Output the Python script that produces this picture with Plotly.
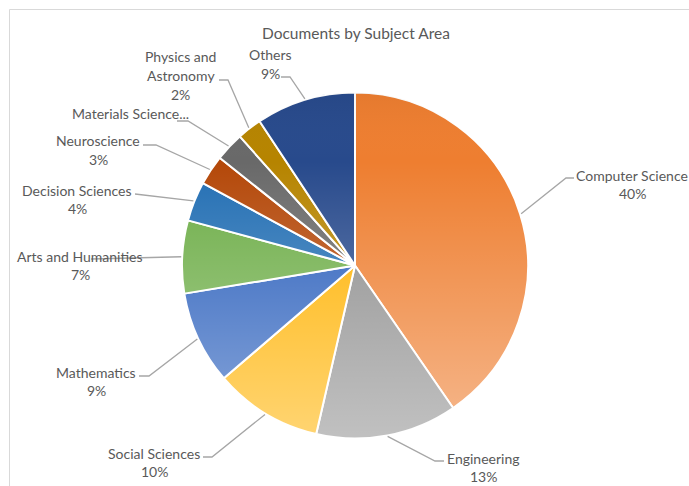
import base64
import math
import plotly.graph_objects as go

# ---- data -------------------------------------------------------------
categories = [
    "Computer Science", "Engineering", "Social Sciences", "Mathematics",
    "Arts and Humanities", "Decision Sciences", "Neuroscience",
    "Materials Science", "Physics and Astronomy", "Others",
]
shares = [40.4, 13.2, 10.1, 8.7, 6.8, 3.7, 2.8, 2.7, 2.3, 9.3]
# text shown for each category name
name_lines = [
    ["Computer Science"], ["Engineering"], ["Social Sciences"], ["Mathematics"],
    ["Arts and Humanities"], ["Decision Sciences"], ["Neuroscience"],
    ["Materials Science..."], ["Physics and", "Astronomy"], ["Others"],
]
show_pct = [True, True, True, True, True, True, True, False, True, True]

# ---- styling ----------------------------------------------------------
slice_colors = [
    "#EE7E30", "#8E8E8E", "#FFB200", "#2A5FBC", "#6DAD47",
    "#226EB3", "#B44809", "#696969", "#B68400", "#284A8C",
]
W, H = 689, 486
CX, CY, R = 355.0, 265.5, 173.0          # pie centre / radius in pixels
TEXT = "#595959"
LEADER = "#A6A6A6"
FONT = "Lato"
LINE_GAP = 18.5

# label block placement (centre x, first-line y) in pixels
label_pos = [
    (632, 175), (483, 458), (154, 453), (96, 372), (80, 256),
    (77, 190), (98, 141), (130, 113), (181, 57), (270, 55),
]
# leader line points before reaching the slice edge, in pixels
leader_pts = [
    [(574, 178), (566, 178)],
    [(444, 461), (435, 461)],
    [(203, 457), (212, 457)],
    [(139, 376), (149, 376)],
    [(91, 259)],
    [(135, 194)],
    [(143, 145), (156, 145)],
    [(177, 121), (188, 121)],
    [(219, 80), (228, 80)],
    [(281, 77), (290, 77)],
]


def px(x):
    return x / W


def py(y):
    return 1 - y / H


total = sum(shares)

fig = go.Figure(
    go.Pie(
        labels=categories,
        values=shares,
        sort=False,
        direction="clockwise",
        rotation=0,
        textinfo="none",
        hoverinfo="label+percent",
        marker=dict(colors=slice_colors, line=dict(color="white", width=2)),
        domain=dict(x=[px(CX - R), px(CX + R)], y=[py(CY + R), py(CY - R)]),
        showlegend=False,
    )
)

annotations = [
    dict(
        text="Documents by Subject Area", x=px(356), y=py(33),
        xref="paper", yref="paper", showarrow=False,
        xanchor="center", yanchor="middle",
        font=dict(family=FONT, size=15.5, color=TEXT),
    )
]
shapes = []

cum = 0.0
for i, v in enumerate(shares):
    frac = v / total
    mid = cum + frac / 2
    cum += frac

    lines = list(name_lines[i])
    if show_pct[i]:
        lines.append(f"{round(frac * 100)}%")
    lx, ly = label_pos[i]
    for k, t in enumerate(lines):
        annotations.append(
            dict(
                text=t, x=px(lx), y=py(ly + k * LINE_GAP),
                xref="paper", yref="paper", showarrow=False,
                xanchor="center", yanchor="middle",
                font=dict(family=FONT, size=14, color=TEXT),
            )
        )

    # leader line ends on the slice's outer edge at its mid angle
    theta = 2 * math.pi * mid
    ex = CX + (R + 1) * math.sin(theta)
    ey = CY - (R + 1) * math.cos(theta)
    pts = leader_pts[i] + [(ex, ey)]
    path = "M " + " L ".join(f"{px(x):.5f},{py(y):.5f}" for x, y in pts)
    shapes.append(
        dict(type="path", path=path, xref="paper", yref="paper",
             line=dict(color=LEADER, width=1.3))
    )

# chart-area frame (top and left edges visible)
shapes.append(dict(type="line", xref="paper", yref="paper",
                   x0=px(9.5), y0=py(9.5), x1=1.0, y1=py(9.5),
                   line=dict(color="#D9D9D9", width=1)))
shapes.append(dict(type="line", xref="paper", yref="paper",
                   x0=px(9.5), y0=py(9.5), x1=px(9.5), y1=0.0,
                   line=dict(color="#D9D9D9", width=1)))

# soft vertical sheen laid over the pie: slightly darker at the top,
# fading to a light tint towards the bottom
sheen_svg = (
    '<svg xmlns="http://www.w3.org/2000/svg" viewBox="0 0 100 100">'
    '<defs><linearGradient id="g" x1="0" y1="0" x2="0" y2="1">'
    '<stop offset="0" stop-color="#000000" stop-opacity="0.04"/>'
    '<stop offset="0.2" stop-color="#ffffff" stop-opacity="0"/>'
    '<stop offset="1" stop-color="#ffffff" stop-opacity="0.45"/>'
    '</linearGradient></defs>'
    '<circle cx="50" cy="50" r="50" fill="url(#g)"/></svg>'
)
sheen_uri = "data:image/svg+xml;base64," + base64.b64encode(sheen_svg.encode()).decode()

fig.update_layout(
    width=W, height=H,
    margin=dict(l=0, r=0, t=0, b=0),
    paper_bgcolor="white",
    plot_bgcolor="white",
    annotations=annotations,
    shapes=shapes,
    images=[dict(
        source=sheen_uri, xref="paper", yref="paper",
        x=px(CX - R), y=py(CY - R), sizex=2 * R / W, sizey=2 * R / H,
        xanchor="left", yanchor="top", sizing="stretch", layer="above",
    )],
)

fig.write_html("out.html")
